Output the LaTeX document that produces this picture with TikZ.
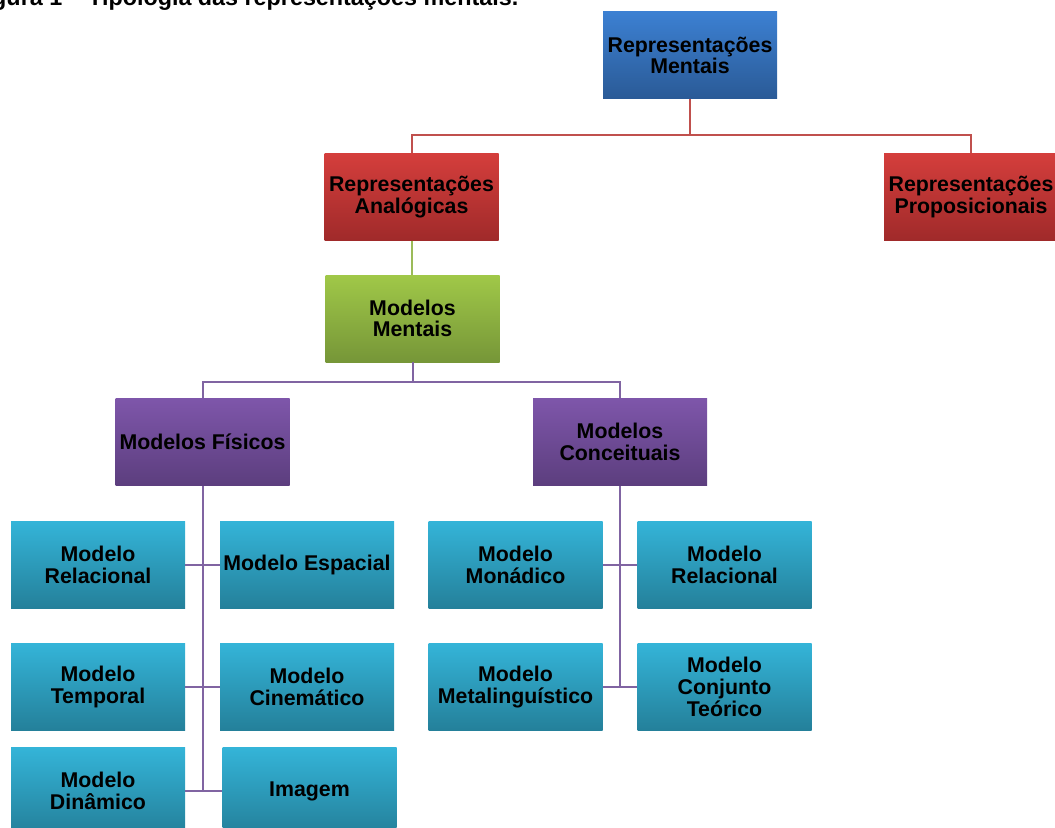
\documentclass[tikz,border=0pt]{standalone}
\usepackage{fontspec}
\setmainfont{Liberation Sans}
\usepackage{xcolor}
\usetikzlibrary{positioning}
\definecolor{blueTop}{RGB}{60,128,210}
\definecolor{blueBot}{RGB}{42,90,150}
\definecolor{redTop}{RGB}{212,62,60}
\definecolor{redBot}{RGB}{160,42,42}
\definecolor{greenTop}{RGB}{160,200,72}
\definecolor{greenBot}{RGB}{118,150,56}
\definecolor{purpleTop}{RGB}{126,86,170}
\definecolor{purpleBot}{RGB}{92,62,126}
\definecolor{cyanTop}{RGB}{52,180,216}
\definecolor{cyanBot}{RGB}{36,128,154}
\definecolor{linkRed}{RGB}{192,80,77}
\definecolor{linkGreen}{RGB}{155,187,89}
\definecolor{linkPurple}{RGB}{128,100,162}
\tikzset{
  hbox/.style={align=center, font=\fontsize{16}{16.3}\selectfont\bfseries,
               minimum width=130.5pt, minimum height=65.25pt, inner sep=1pt},
  bluebox/.style={hbox, top color=blueTop, bottom color=blueBot},
  redbox/.style={hbox, top color=redTop, bottom color=redBot},
  greenbox/.style={hbox, top color=greenTop, bottom color=greenBot},
  purplebox/.style={hbox, top color=purpleTop, bottom color=purpleBot},
  cyanbox/.style={hbox, top color=cyanTop, bottom color=cyanBot},
  redlink/.style={draw=linkRed, line width=1.5pt},
  greenlink/.style={draw=linkGreen, line width=1.5pt},
  purplelink/.style={draw=linkPurple, line width=1.5pt},
}

\begin{document}
\begin{tikzpicture}[x=0.75pt, y=-0.75pt]
  \useasboundingbox (0,0) rectangle (1055,827);
  \node[anchor=base east, font=\fontsize{17.5}{18}\selectfont\bfseries] (title)
    at (523,6) {Figura 1 – Tipologia das representações mentais.};

  \node[bluebox] (mentais) at (690,55.5) {Representações\\Mentais};
  \node[redbox] (analog) at (411.5,197) {Representações\\Analógicas};
  \node[redbox] (propos) at (971,197) {Representações\\Proposicionais};
  \node[greenbox] (mmentais) at (412.5,318.5) {Modelos\\Mentais};
  \node[purplebox] (fisicos) at (202.5,442) {Modelos Físicos};
  \node[purplebox] (conceit) at (620,442) {Modelos\\Conceituais};

  % modelos fisicos
  \node[cyanbox] (relacional) at (98,565) {Modelo\\Relacional};
  \node[cyanbox] (espacial) at (307,565) {Modelo Espacial};
  \node[cyanbox] (temporal) at (98,687) {Modelo\\Temporal};
  \node[cyanbox] (cinematico) at (307,687) {Modelo\\Cinemático};
  \node[cyanbox] (dinamico) at (98,791) {Modelo\\Dinâmico};
  \node[cyanbox] (imagem) at (309.5,791) {Imagem};

  % modelos conceituais
  \node[cyanbox] (monadico) at (515.5,565) {Modelo\\Monádico};
  \node[cyanbox] (relconc) at (724.5,565) {Modelo\\Relacional};
  \node[cyanbox] (metaling) at (515.5,687) {Modelo\\Metalinguístico};
  \node[cyanbox] (conjunto) at (724.5,687) {Modelo\\Conjunto\\Teórico};

  \draw[redlink] (mentais.south) -- ++(0,36) -| (analog.north);
  \draw[redlink] (mentais.south) -- ++(0,36) -| (propos.north);
  \draw[greenlink] (analog.south) -- (analog.south |- mmentais.north);
  \draw[purplelink] (mmentais.south) -- ++(0,20) -| (fisicos.north);
  \draw[purplelink] (mmentais.south) -- ++(0,20) -| (conceit.north);

  \foreach \child in {relacional,espacial,temporal,cinematico}
    \draw[purplelink] (fisicos.south) |- (\child);
  \draw[purplelink] (fisicos.south) |- (dinamico.east);
  \draw[purplelink] (fisicos.south) |- (imagem.west);
  \foreach \child in {monadico,relconc,metaling,conjunto}
    \draw[purplelink] (conceit.south) |- (\child);
\end{tikzpicture}
\end{document}
